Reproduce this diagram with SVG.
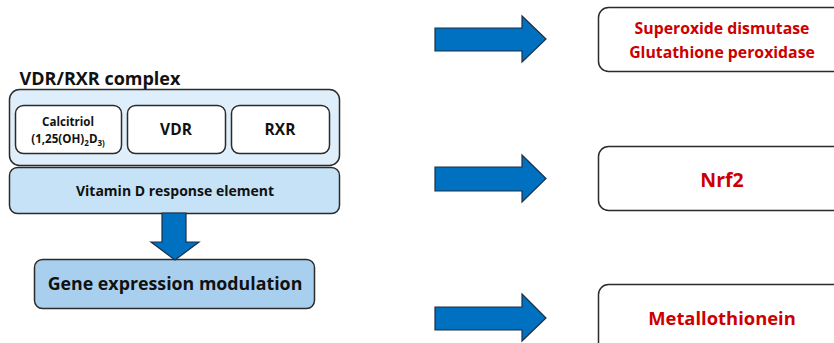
<svg xmlns="http://www.w3.org/2000/svg" width="834" height="343" viewBox="0 0 834 343">
<style>
text{font-family:"Open Sans","Liberation Sans",Arial,sans-serif;font-weight:bold;text-anchor:middle;fill:#111}
.box{stroke:#2b2b2b;stroke-width:1.5}
.arrow{fill:#0070c0;stroke:#1d2f45;stroke-width:1.2}
.red{fill:#cc0000}
</style>
<rect width="834" height="343" fill="#fff"/>
<g id="title"><text x="100" y="85" font-size="18">VDR/RXR complex</text></g>
<g id="complex">
<rect class="box" x="9.5" y="89.5" width="330" height="76" rx="10" fill="#deeefa"/>
</g>
<g id="calcitriol">
<rect class="box" x="15.5" y="105.5" width="106" height="48" rx="8" fill="#fff"/>
<text x="68" y="126" font-size="11.6">Calcitriol</text>
<text x="68" y="143" font-size="11.6">(1,25(OH)<tspan font-size="8" dy="3">2</tspan><tspan dy="-3">D</tspan><tspan font-size="8" dy="3">3)</tspan></text>
</g>
<g id="vdr">
<rect class="box" x="127.5" y="105.5" width="98" height="48" rx="8" fill="#fff"/>
<text x="176" y="135" font-size="15.5">VDR</text>
</g>
<g id="rxr">
<rect class="box" x="231.5" y="105.5" width="98" height="48" rx="8" fill="#fff"/>
<text x="280" y="135" font-size="15.5">RXR</text>
</g>
<g id="vre">
<rect class="box" x="9.5" y="167.5" width="330" height="46" rx="8" fill="#c6e2f7"/>
<text x="175" y="196" font-size="14">Vitamin D response element</text>
</g>
<g id="gene">
<rect class="box" x="34.5" y="259.5" width="280" height="49" rx="8" fill="#a9cfef"/>
<text x="175" y="290" font-size="17.8">Gene expression modulation</text>
</g>
<g id="sod">
<rect class="box" x="598.5" y="7.5" width="260" height="64" rx="10" fill="#fff"/>
<text class="red" x="722" y="34" font-size="15.8">Superoxide dismutase</text>
<text class="red" x="722" y="58" font-size="15.8">Glutathione peroxidase</text>
</g>
<g id="nrf2">
<rect class="box" x="598.5" y="146.5" width="260" height="64" rx="10" fill="#fff"/>
<text class="red" x="722" y="187" font-size="19.5">Nrf2</text>
</g>
<g id="mt">
<rect class="box" x="598.5" y="284.5" width="260" height="70" rx="10" fill="#fff"/>
<text class="red" x="722" y="325" font-size="18.4">Metallothionein</text>
</g>
<g id="connectors">
<path class="arrow" d="M162,213 V242 H151 L175,260 L199,242 H186 V213 Z"/>
<path class="arrow" d="M435,28 H522 V16 L546,39 L522,62 V51 H435 Z"/>
<path class="arrow" d="M435,167 H522 V155 L546,178.5 L522,202 V191 H435 Z"/>
<path class="arrow" d="M435,307 H522 V294 L546,318 L522,341 V330 H435 Z"/>
</g>
</svg>
